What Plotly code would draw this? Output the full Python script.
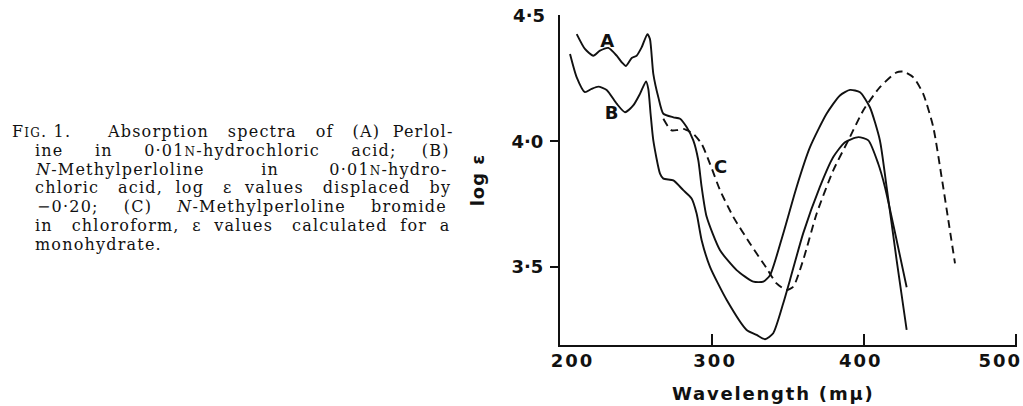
import plotly.graph_objects as go

# ---- data ----
A_x = [211, 216.4, 221.9, 226.3, 231.8, 237.3, 240.6, 243.4, 247.2, 250.4, 253.7, 257.5, 259.2,
       261.4, 264.7, 268, 274.6, 279, 283.3, 287.7, 291, 293.2, 296.5, 305.3, 316.2, 327.2, 333.8,
       338.2, 346.9, 355.7, 364.5, 375.4, 384.2, 390.8, 397.4, 403.9, 410.5, 414.9, 421.5, 428.1]
A_y = [4.427, 4.368, 4.341, 4.361, 4.372, 4.341, 4.315, 4.30, 4.332, 4.341, 4.374, 4.427, 4.407,
       4.269, 4.176, 4.11, 4.096, 4.09, 4.057, 4.004, 3.925, 3.819, 3.70, 3.567, 3.488, 3.442, 3.442,
       3.468, 3.634, 3.819, 3.977, 4.11, 4.183, 4.205, 4.196, 4.136, 4.004, 3.819, 3.528, 3.25]

B_x = [206.6, 211, 216.4, 220.8, 225.2, 230.7, 237.3, 242.8, 248.2, 252.6, 256.6, 258.1, 259.6,
       261.4, 265.8, 268, 274.6, 281.1, 286.6, 289.9, 293.2, 298.7, 309.7, 322.8, 329.4, 334.9,
       340.3, 346.9, 351.3, 360, 371, 379.8, 387.5, 396.3, 402.9, 409.4, 413.8, 421.5, 428.1]
B_y = [4.348, 4.255, 4.196, 4.209, 4.218, 4.205, 4.15, 4.116, 4.143, 4.189, 4.239, 4.209, 4.11,
       4.004, 3.872, 3.852, 3.845, 3.806, 3.773, 3.713, 3.607, 3.501, 3.369, 3.25, 3.23, 3.213,
       3.237, 3.356, 3.448, 3.634, 3.819, 3.938, 3.997, 4.017, 4.004, 3.911, 3.819, 3.607, 3.42]

C_x = [268, 271, 273.5, 277, 281.1, 287.7, 293.2, 298.7, 305.3, 314, 325, 336, 342.5, 349.1,
       353.5, 360, 368.9, 379.8, 389.7, 399.5, 410.5, 421.5, 425.8, 432.5, 439, 445.6, 451.1,
       455.5, 459.9]
C_y = [4.09, 4.06, 4.044, 4.045, 4.05, 4.03, 3.99, 3.911, 3.806, 3.70, 3.594, 3.495, 3.435, 3.409,
       3.422, 3.528, 3.713, 3.885, 4.004, 4.123, 4.216, 4.275, 4.278, 4.255, 4.189, 4.057, 3.858,
       3.687, 3.515]

curve_labels = ["A", "B", "C"]
label_x = [231.1, 234.0, 305.7]
label_y = [4.394, 4.107, 3.892]

x_ticks = [200, 300, 400, 500]
x_ticktext = ["200", "300", "400", "500"]
y_ticks = [3.5, 4.0]
y_ticktext = ["3·5", "4·0"]
y_top_tick = [4.5]
y_top_text = ["4·5"]

# caption words per line (justified below with extra spaces)
caption_head = ["F", "IG", ". 1."]
caption_words = [
    ["Absorption", "spectra", "of", "(A)", "Perlol-"],
    ["ine", "in", "0·01{N}-hydrochloric", "acid;", "(B)"],
    ["<i>N</i>-Methylperloline", "in", "0·01{N}-hydro-"],
    ["chloric", "acid,", "log", "ε", "values", "displaced", "by"],
    ["−0·20;", "(C)", "<i>N</i>-Methylperloline", "bromide"],
    ["in", "chloroform,", "ε", "values", "calculated", "for", "a"],
    ["monohydrate."],
]

BLACK = "#111111"
NB = "&nbsp;"
SMALLCAP = "<span style='font-size:12px'>{}</span>"

# extra non-breaking spaces per word gap, to imitate the justified setting
gap_pads = [
    [2, 2, 2, 1],
    [4, 4, 4, 3],
    [8, 7],
    [2, 1, 2, 1, 2, 2],
    [3, 3, 3],
    [2, 1, 1, 2, 1, 1],
    [],
]


def justify(words, pads):
    out = words[0]
    for w, p in zip(words[1:], pads):
        out += NB * p + " " + w
    return out.replace("{N}", SMALLCAP.format("N"))


def spaced(text, px):
    return "<span style='letter-spacing:{}px'>{}</span>".format(px, text)


tick_font = dict(family="DejaVu Sans", size=18, color=BLACK, weight="bold")

# small optical offsets of the hand-lettered tick labels (left / right padding, in spaces)
x_pad_left = [4, 1, 0, 0]
x_pad_right = [0, 0, 1, 5]
x_ticktext_fmt = [NB * l + spaced(t, 2) + NB * r for t, l, r in zip(x_ticktext, x_pad_left, x_pad_right)]

fig = go.Figure()
line_style = dict(color=BLACK, width=1.9, shape="spline", smoothing=0.6)
fig.add_trace(go.Scatter(x=A_x, y=A_y, mode="lines", line=line_style, name="A", showlegend=False))
fig.add_trace(go.Scatter(x=B_x, y=B_y, mode="lines", line=line_style, name="B", showlegend=False))
fig.add_trace(go.Scatter(x=C_x, y=C_y, mode="lines", line=dict(line_style, dash="8px,5px"),
                         name="C", showlegend=False))
fig.add_trace(go.Scatter(x=label_x, y=label_y, mode="text", text=curve_labels,
                         textfont=dict(family="DejaVu Sans", size=18, color=BLACK, weight="bold"),
                         showlegend=False, hoverinfo="skip", yaxis="y2"))

Y_RANGE = [3.19, 4.503]
fig.update_layout(
    width=1023, height=406,
    margin=dict(l=560, r=6, t=15, b=61),
    paper_bgcolor="white", plot_bgcolor="white",
    template="none",
    xaxis=dict(range=[200, 500.7], showgrid=False, zeroline=False, showline=True, linecolor=BLACK,
               linewidth=2, ticks="inside", ticklen=11, tickwidth=2, tickcolor=BLACK,
               tickvals=x_ticks, ticktext=x_ticktext_fmt, tickfont=tick_font, ticklabelstandoff=-2,
               ticklabeloverflow="allow", automargin=False),
    yaxis=dict(range=Y_RANGE, showgrid=False, zeroline=False, showline=True, linecolor=BLACK,
               linewidth=2, ticks="outside", ticklen=8, tickwidth=2, tickcolor=BLACK,
               tickvals=y_ticks, ticktext=y_ticktext, tickfont=tick_font, ticklabelstandoff=3,
               automargin=False,
               title=dict(text=spaced("log ε", 1), font=dict(family="DejaVu Sans", size=18, color=BLACK, weight="bold"),
                          standoff=22)),
    yaxis2=dict(range=Y_RANGE, overlaying="y", side="left", showgrid=False, zeroline=False,
                showline=False, ticks="inside", ticklen=8, tickwidth=2, tickcolor=BLACK,
                tickvals=y_top_tick, ticktext=y_top_text, tickfont=tick_font, ticklabelstandoff=14,
                automargin=False),
)


def px_x(p):
    return (p - 560) / 457


def px_y(p):
    return (345 - p) / 330


# x-axis title placed to match the reference position
fig.add_annotation(text=spaced("Wavelength (mμ)", 1.8), xref="paper", yref="paper", x=px_x(773), y=px_y(393),
                   showarrow=False, xanchor="center", yanchor="middle",
                   font=dict(family="DejaVu Sans", size=18, color=BLACK, weight="bold"))

# caption text on the left
cap_font = dict(family="DejaVu Serif", size=16, color=BLACK)
LS = 1.2
line_y0 = 131.5
line_gap = 18.75

head = caption_head[0] + SMALLCAP.format(caption_head[1]) + caption_head[2]
fig.add_annotation(text=spaced(head, LS), xref="paper", yref="paper", x=px_x(10), y=px_y(line_y0),
                   showarrow=False, xanchor="left", yanchor="middle", font=cap_font)
for i, (words, pads) in enumerate(zip(caption_words, gap_pads)):
    xpix = 105 if i == 0 else (35 if i == 4 else 33)
    fig.add_annotation(text=spaced(justify(words, pads), LS), xref="paper", yref="paper",
                       x=px_x(xpix), y=px_y(line_y0 + i * line_gap),
                       showarrow=False, xanchor="left", yanchor="middle", align="left",
                       font=cap_font)

# remove the browser's default page margin so the 1023x406 figure fills the window exactly
fig.write_html("out.html", config={"displayModeBar": False},
               post_script="document.body.style.margin='0';")
